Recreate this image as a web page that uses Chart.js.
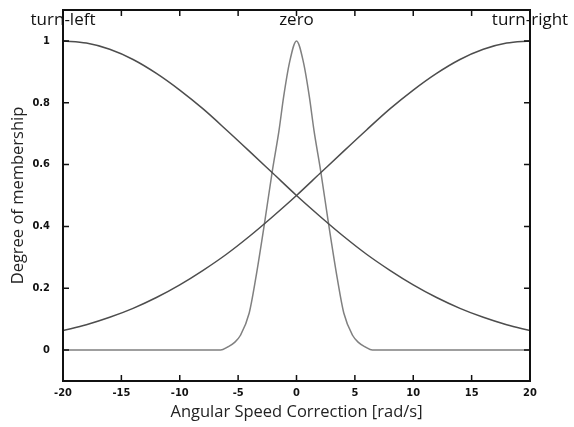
<!DOCTYPE html>
<html>
<head>
<meta charset="utf-8">
<script src="https://cdn.jsdelivr.net/npm/chart.js@4.4.0/dist/chart.umd.min.js"></script>
<style>
  html, body { margin: 0; padding: 0; background: #fff; }
  #wrap { width: 574px; height: 427px; position: relative; }
</style>
</head>
<body>
<div id="wrap"><canvas id="mfChart"></canvas></div>
<script>
// membership functions, values
const turnX = [-20, -18, -16, -14, -12, -10, -8, -6, -4, -2, 0, 2, 4, 6, 8, 10, 12, 14, 16, 18, 20];
const turnLeft = [1.0, 0.993, 0.973, 0.94, 0.895, 0.841, 0.78, 0.712, 0.642, 0.571, 0.5, 0.433, 0.369, 0.31, 0.258, 0.211, 0.17, 0.135, 0.106, 0.082, 0.063];
const turnRight = [0.063, 0.082, 0.106, 0.135, 0.17, 0.211, 0.258, 0.31, 0.369, 0.433, 0.5, 0.571, 0.642, 0.712, 0.78, 0.841, 0.895, 0.94, 0.973, 0.993, 1.0];

const zeroX = [-20, -6.5, -5.9, -5.3, -4.8, -4.05, -3.5, -2.7, -2.07, -1.5, -1.1, -0.6, 0, 0.6, 1.1, 1.5, 2.07, 2.7, 3.5, 4.05, 4.8, 5.3, 5.9, 6.5, 20];
const zeroVals = [0, 0, 0.01, 0.025, 0.048, 0.12, 0.23, 0.42, 0.58, 0.71, 0.82, 0.93, 1.0, 0.93, 0.82, 0.71, 0.58, 0.42, 0.23, 0.12, 0.048, 0.025, 0.01, 0, 0];

const xTicks = [-20, -15, -10, -5, 0, 5, 10, 15, 20];
const yTicks = [0, 0.2, 0.4, 0.6, 0.8, 1];

const mfLabels = ["turn-left", "zero", "turn-right"];
const mfLabelX = [-20, 0, 20];
const mfLabelY = 1.068;

function toPoints(xs, ys) {
  return xs.map((x, i) => ({ x: x, y: ys[i] }));
}

// frame with inward ticks + the set names
const framePlugin = {
  id: "frame",
  afterDraw(chart) {
    const ctx = chart.ctx;
    const a = chart.chartArea;
    const xs = chart.scales.x;
    const ys = chart.scales.y;
    ctx.save();
    ctx.strokeStyle = "#111";
    ctx.lineWidth = 2;
    ctx.strokeRect(a.left, a.top, a.right - a.left, a.bottom - a.top);
    ctx.lineWidth = 1.5;
    ctx.beginPath();
    xTicks.forEach((v) => {
      const px = xs.getPixelForValue(v);
      ctx.moveTo(px, a.bottom);
      ctx.lineTo(px, a.bottom - 6);
      ctx.moveTo(px, a.top);
      ctx.lineTo(px, a.top + 6);
    });
    yTicks.forEach((v) => {
      const py = ys.getPixelForValue(v);
      ctx.moveTo(a.left, py);
      ctx.lineTo(a.left + 6, py);
      ctx.moveTo(a.right, py);
      ctx.lineTo(a.right - 6, py);
    });
    ctx.stroke();

    ctx.fillStyle = "#111";
    ctx.font = "17px 'Open Sans', sans-serif";
    ctx.textAlign = "center";
    ctx.textBaseline = "middle";
    mfLabels.forEach((t, i) => {
      ctx.fillText(t, xs.getPixelForValue(mfLabelX[i]), ys.getPixelForValue(mfLabelY));
    });
    ctx.restore();
  },
};

const ctx = document.getElementById("mfChart").getContext("2d");
new Chart(ctx, {
  type: "line",
  data: {
    datasets: [
      {
        label: "turn-left",
        data: toPoints(turnX, turnLeft),
        borderColor: "#4d4d4d",
        borderWidth: 1.5,
        pointRadius: 0,
        cubicInterpolationMode: "monotone",
      },
      {
        label: "turn-right",
        data: toPoints(turnX, turnRight),
        borderColor: "#4d4d4d",
        borderWidth: 1.5,
        pointRadius: 0,
        cubicInterpolationMode: "monotone",
      },
      {
        label: "zero",
        data: toPoints(zeroX, zeroVals),
        borderColor: "#808080",
        borderWidth: 1.5,
        pointRadius: 0,
        cubicInterpolationMode: "monotone",
      },
    ],
  },
  options: {
    responsive: true,
    maintainAspectRatio: false,
    animation: false,
    layout: { padding: { top: 10, right: 44, left: 0, bottom: 0 } },
    plugins: {
      legend: { display: false },
      tooltip: { enabled: false },
    },
    scales: {
      x: {
        type: "linear",
        min: -20,
        max: 20,
        grid: { display: false, drawTicks: false },
        border: { display: false },
        afterBuildTicks: (scale) => {
          scale.ticks = xTicks.map((v) => ({ value: v }));
        },
        afterFit: (scale) => {
          scale.height = 46;
          scale.paddingLeft = 0;
          scale.paddingRight = 0;
        },
        ticks: {
          padding: 6,
          color: "#111",
          font: { family: "'Liberation Sans Narrow', 'DejaVu Sans Condensed', sans-serif", size: 11, weight: "bold" },
          maxRotation: 0,
          callback: (v) => String(v),
        },
        title: {
          display: true,
          text: "Angular Speed Correction [rad/s]",
          color: "#222",
          font: { family: "'Open Sans', sans-serif", size: 16.5 },
          padding: { top: 0, bottom: 5 },
        },
      },
      y: {
        type: "linear",
        min: -0.1,
        max: 1.1,
        grid: { display: false, drawTicks: false },
        border: { display: false },
        afterBuildTicks: (scale) => {
          scale.ticks = yTicks.map((v) => ({ value: v }));
        },
        afterFit: (scale) => {
          scale.width = 63;
          scale.paddingTop = 0;
          scale.paddingBottom = 0;
        },
        ticks: {
          padding: 13,
          color: "#111",
          font: { family: "'Liberation Sans Narrow', 'DejaVu Sans Condensed', sans-serif", size: 11, weight: "bold" },
          callback: (v) => String(Math.round(v * 10) / 10),
        },
        title: {
          display: true,
          text: "Degree of membership",
          color: "#222",
          font: { family: "'Open Sans', sans-serif", size: 16.5 },
          padding: { top: 8, bottom: 0 },
        },
      },
    },
  },
  plugins: [framePlugin],
});
</script>
</body>
</html>
